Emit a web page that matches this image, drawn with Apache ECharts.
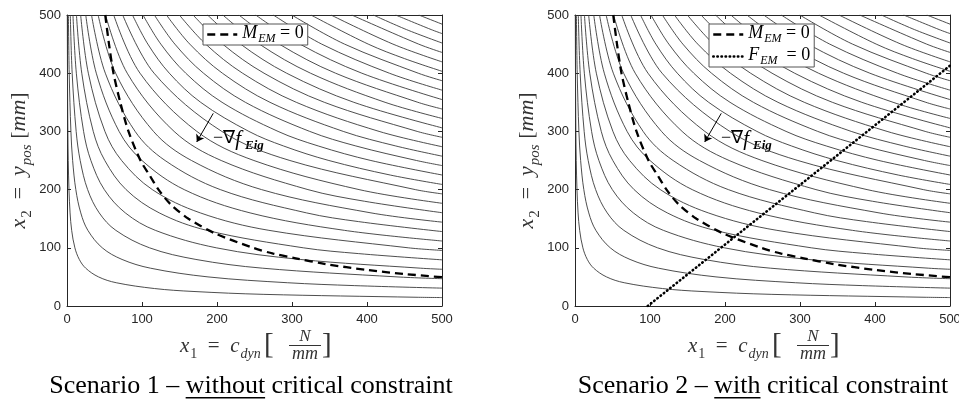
<!DOCTYPE html>
<html>
<head>
<meta charset="utf-8">
<script src="https://cdn.jsdelivr.net/npm/echarts@6/dist/echarts.min.js"></script>
<style>
html,body{margin:0;padding:0;background:#fff;}
#c{width:959px;height:400px;}
</style>
</head>
<body>
<div id="c"></div>
<script>
// ---------------- data ----------------
const axisTicks = [0, 100, 200, 300, 400, 500];          // both axes, both plots

// contour lines of f_Eig: each curve as [x1 = c_dyn, x2 = y_pos] points
const contourLines = [
  [[0.42,500],[0.66,400],[1.17,300],[1.68,250],[2.63,200],[4.10,160],[6.21,130],[10.5,100],[16.4,80],[24.9,65],[42,50],[65.6,40],[116.7,30],[168,25],[262.5,20],[466.7,15],[500,14.5]],
  [[1.88,500],[2.94,400],[5.22,300],[7.52,250],[11.75,200],[18.36,160],[27.81,130],[47,100],[73.4,80],[111.2,65],[188,50],[293.8,40],[383.7,35],[500,30.7]],
  [[4.4,500],[6.88,400],[12.22,300],[17.6,250],[27.5,200],[42.97,160],[65.09,130],[110,100],[171.9,80],[260.4,65],[440,50],[500,46.9]],
  [[7.96,500],[12.44,400],[22.11,300],[31.84,250],[49.75,200],[77.73,160],[117.75,130],[199,100],[310.9,80],[471,65],[500,63.1]],
  [[12.6,500],[19.69,400],[35,300],[50.4,250],[78.75,200],[123,160],[186.4,130],[315,100],[388.9,90],[500,79.3]],
  [[18.2,500],[28.44,400],[50.56,300],[72.8,250],[113.75,200],[177.7,160],[269.2,130],[455,100],[500,95.5]],
  [[25,500],[39.06,400],[69.44,300],[100,250],[156.25,200],[244.1,160],[369.8,130],[500,111.7]],
  [[32.7,500],[51.09,400],[90.83,300],[130.8,250],[204.4,200],[319.3,160],[388.8,145],[500,127.9]],
  [[41.5,500],[64.84,400],[115.3,300],[166,250],[259.4,200],[405.3,160],[500,144.1]],
  [[51.4,500],[80.31,400],[142.8,300],[205.6,250],[321.25,200],[396.6,180],[500,160.3]],
  [[62.3,500],[97.34,400],[173.1,300],[249.2,250],[389.4,200],[500,176.5]],
  [[74.3,500],[116.1,400],[206.4,300],[297.2,250],[464.4,200],[500,192.7]],
  [[87.3,500],[107.8,450],[136.4,400],[178.2,350],[242.5,300],[288.6,275],[349.2,250],[431.1,225],[500,208.9]],
  [[101.3,500],[125.1,450],[158.3,400],[206.7,350],[281.4,300],[334.9,275],[405.2,250],[500,225.1]],
  [[116.5,500],[143.8,450],[182,400],[237.8,350],[323.6,300],[385.1,275],[466,250],[500,241.3]],
  [[132.6,500],[163.7,450],[207.2,400],[270.6,350],[368.3,300],[438.3,275],[500,257.5]],
  [[149.8,500],[184.9,450],[234.1,400],[305.7,350],[416.1,300],[500,273.7]],
  [[168.1,500],[207.5,450],[262.7,400],[343.1,350],[466.9,300],[500,289.9]],
  [[187.4,500],[231.4,450],[292.8,400],[382.4,350],[500,306.1]],
  [[207.8,500],[256.5,450],[324.7,400],[424.1,350],[500,322.3]],
  [[229.2,500],[283,450],[358.1,400],[467.8,350],[500,338.5]],
  [[251.6,500],[310.6,450],[393.1,400],[500,354.7]],
  [[275.1,500],[339.6,450],[429.8,400],[500,370.9]],
  [[299.7,500],[370,450],[468.3,400],[500,387.1]],
  [[325.3,500],[401.6,450],[450.2,425],[500,403.3]],
  [[352,500],[434.6,450],[500,419.5]],
  [[379.7,500],[468.8,450],[500,435.7]],
  [[408.4,500],[452.5,475],[500,451.9]],
  [[438.2,500],[485.5,475],[500,468.1]],
  [[469.1,500],[500,484.3]]
];

// M_EM = 0 (dashed)
const mEmZero = [[51,500],[56,450],[62,400],[71,350],[82,300],[98,250],[110,225],[122,200],[138,175],[162,150],[197,125],[248,100],[275,90],[305,82],[345,72],[400,62],[450,55],[500,49.5]];
// F_EM = 0 (dotted, scenario 2 only)
const fEmZero = [[97,0],[500,413]];
// -grad f_Eig arrow (from, to)
const gradArrow = [[195,331],[173,282]];

// texts
const legendNames = {M: '{i|M}{s|EM}{n| = 0}', F: '{i|F}{s|EM}{n|  = 0}'};
const xTitleMain = '{i|x}{u|1}{n|  =  }{i|c}{s|dyn}';
const yTitle = '{i|x}{u|2}{n|  =  }{i|y}{s|pos}{n| [}{i|mm}{n|]}';
const gradLabel = '{n|\u2212\u2207}{i|f}{s|Eig}';
const captions = [
  ['Scenario 1 \u2013 ', 'without', ' critical constraint'],
  ['Scenario 2 \u2013 ', 'with', ' critical constraint']
];

// ---------------- layout / style ----------------
const SERIF = '"Liberation Serif","Times New Roman",serif';
const SANS = '"Liberation Sans",Arial,sans-serif';
const INK = '#262626';
const TXT = '#333333';
const grids = [
  {left: 67, top: 15, width: 375, height: 291},
  {left: 575, top: 15, width: 375, height: 291}
];

function richMath(size, sub, col) {
  const pad = Math.round(size * 0.52);
  return {
    i: {fontFamily: SERIF, fontStyle: 'italic', fontSize: size, lineHeight: size + 3, verticalAlign: 'top', color: col, fill: col},
    n: {fontFamily: SERIF, fontSize: size, lineHeight: size + 3, verticalAlign: 'top', color: col, fill: col},
    s: {fontFamily: SERIF, fontStyle: 'italic', fontSize: sub, lineHeight: sub, padding: [pad, 0, 0, 1], verticalAlign: 'top', color: col, fill: col},
    u: {fontFamily: SERIF, fontSize: sub, lineHeight: sub, padding: [pad, 0, 0, 1], verticalAlign: 'top', color: col, fill: col}
  };
}

const tMin = axisTicks[0], tMax = axisTicks[axisTicks.length - 1], tStep = axisTicks[1] - axisTicks[0];
function xAx(gi, pos) {
  return {
    type: 'value', gridIndex: gi, position: pos, min: tMin, max: tMax, interval: tStep,
    axisLine: {show: true, onZero: false, lineStyle: {color: INK, width: 1}},
    axisTick: {show: true, inside: true, length: 4, lineStyle: {color: INK, width: 1}},
    axisLabel: {show: pos === 'bottom', color: INK, fontSize: 13, fontFamily: SANS, margin: 7},
    splitLine: {show: false}
  };
}
function yAx(gi, pos) {
  return {
    type: 'value', gridIndex: gi, position: pos, min: tMin, max: tMax, interval: tStep,
    axisLine: {show: true, onZero: false, lineStyle: {color: INK, width: 1}},
    axisTick: {show: true, inside: true, length: 4, lineStyle: {color: INK, width: 1}},
    axisLabel: {show: pos === 'left', color: INK, fontSize: 13, fontFamily: SANS, margin: 6},
    splitLine: {show: false}
  };
}

const series = [];
for (let g = 0; g < 2; g++) {
  contourLines.forEach((pts, k) => {
    series.push({
      type: 'line', name: 'c' + g + '_' + k, xAxisIndex: g * 2, yAxisIndex: g * 2,
      data: pts, symbol: 'none', showSymbol: false, smooth: 0.35, silent: true,
      lineStyle: {color: '#3a3a3a', width: 0.9}, itemStyle: {color: '#3a3a3a'}, z: 2
    });
  });
  series.push({
    type: 'line', name: 'M', xAxisIndex: g * 2, yAxisIndex: g * 2,
    data: mEmZero, symbol: 'none', showSymbol: false, smooth: 0.3, silent: true,
    itemStyle: {color: '#000'},
    lineStyle: {color: '#000', width: 2.3, type: [8, 5]}, z: 4
  });
  series.push({
    type: 'line', name: 'arrow' + g, xAxisIndex: g * 2, yAxisIndex: g * 2, data: [],
    silent: true,
    markLine: {
      silent: true, animation: false, symbol: ['none', 'arrow'], symbolSize: 7,
      label: {show: false}, lineStyle: {color: '#000', width: 1, type: 'solid'},
      data: [[{coord: gradArrow[0]}, {coord: gradArrow[1]}]]
    }
  });
}
series.push({
  type: 'line', name: 'F', xAxisIndex: 2, yAxisIndex: 2,
  data: fEmZero, symbol: 'none', showSymbol: false, silent: true,
  itemStyle: {color: '#000'},
  lineStyle: {color: '#000', width: 2.6, type: [0.5, 3.6], cap: 'round'}, z: 4
});

const legendRich = richMath(18, 12, '#000');
function legendCfg(names, left) {
  return {
    data: names, left: left, top: 24, orient: 'vertical', selectedMode: false,
    itemWidth: 30, itemHeight: 14, itemGap: 1,
    padding: [0, 4, 0, 3], borderColor: '#555', borderWidth: 1, backgroundColor: '#fff',
    itemStyle: {opacity: 0, color: 'rgba(0,0,0,0)', borderWidth: 0},
    lineStyle: {width: 2.5},
    formatter: n => legendNames[n],
    textStyle: {rich: legendRich}
  };
}

// graphic texts
const measure = document.createElement('canvas').getContext('2d');
measure.font = '26px ' + SERIF;
const graphic = [];
const mathRich = richMath(21, 14, TXT);
const yRich = richMath(22, 15, TXT);
grids.forEach((gr, g) => {
  const cx = gr.left + gr.width / 2;
  const cy = gr.top + gr.height / 2;
  // y title (rotated)
  graphic.push({type: 'text', x: gr.left - 46, y: cy, rotation: Math.PI / 2,
    style: {text: yTitle, rich: yRich, align: 'center', verticalAlign: 'middle'}});
  // x title
  const x0 = cx - 74.5;
  graphic.push({type: 'text', x: x0, y: 348, style: {text: xTitleMain, rich: mathRich, align: 'left', verticalAlign: 'middle'}});
  graphic.push({type: 'text', x: x0 + 84, y: 345, style: {text: '[', fontFamily: SERIF, fontSize: 29, fill: TXT, align: 'left', verticalAlign: 'middle'}});
  graphic.push({type: 'text', x: x0 + 125, y: 337, style: {text: 'N', fontFamily: SERIF, fontStyle: 'italic', fontSize: 17, fill: TXT, align: 'center', verticalAlign: 'middle'}});
  graphic.push({type: 'rect', shape: {x: x0 + 109, y: 345, width: 32, height: 1}, style: {fill: TXT}});
  graphic.push({type: 'text', x: x0 + 125, y: 354, style: {text: 'mm', fontFamily: SERIF, fontStyle: 'italic', fontSize: 18, fill: TXT, align: 'center', verticalAlign: 'middle'}});
  graphic.push({type: 'text', x: x0 + 142, y: 345, style: {text: ']', fontFamily: SERIF, fontSize: 29, fill: TXT, align: 'left', verticalAlign: 'middle'}});
  // gradient label
  graphic.push({type: 'text', x: gr.left + 146, y: 139, style: {text: gradLabel, rich: {
    n: {fontFamily: SERIF, fontSize: 18, lineHeight: 20, verticalAlign: 'top', fill: '#000', color: '#000'},
    i: {fontFamily: SERIF, fontStyle: 'italic', fontSize: 21, lineHeight: 20, verticalAlign: 'top', fill: '#000', color: '#000'},
    s: {fontFamily: SERIF, fontStyle: 'italic', fontWeight: 'bold', fontSize: 13, lineHeight: 13, padding: [10, 0, 0, 4], verticalAlign: 'top', fill: '#000', color: '#000'}
  }, align: 'left', verticalAlign: 'middle'}});
  // caption
  const parts = captions[g];
  const ws = parts.map(p => measure.measureText(p).width);
  const total = ws[0] + ws[1] + ws[2];
  const capC = g === 0 ? cx - 3.5 : cx + 0.5;
  let xx = capC - total / 2;
  parts.forEach((p, j) => {
    graphic.push({type: 'text', x: xx, y: 386, style: {text: p, fontFamily: SERIF, fontSize: 26, fill: '#000', align: 'left', verticalAlign: 'middle'}});
    if (j === 1) {
      graphic.push({type: 'rect', shape: {x: xx, y: 397, width: ws[1], height: 1.4}, style: {fill: '#000'}});
    }
    xx += ws[j];
  });
});

const chart = echarts.init(document.getElementById('c'), null, {renderer: 'canvas', width: 959, height: 400});
chart.setOption({
  animation: false,
  backgroundColor: '#fff',
  grid: grids.map(g => Object.assign({containLabel: false, outerBoundsMode: 'none'}, g)),
  xAxis: [xAx(0, 'bottom'), xAx(0, 'top'), xAx(1, 'bottom'), xAx(1, 'top')],
  yAxis: [yAx(0, 'left'), yAx(0, 'right'), yAx(1, 'left'), yAx(1, 'right')],
  legend: [legendCfg(['M'], 203), legendCfg(['M', 'F'], 709)],
  series: series,
  graphic: graphic
});
</script>
</body>
</html>
